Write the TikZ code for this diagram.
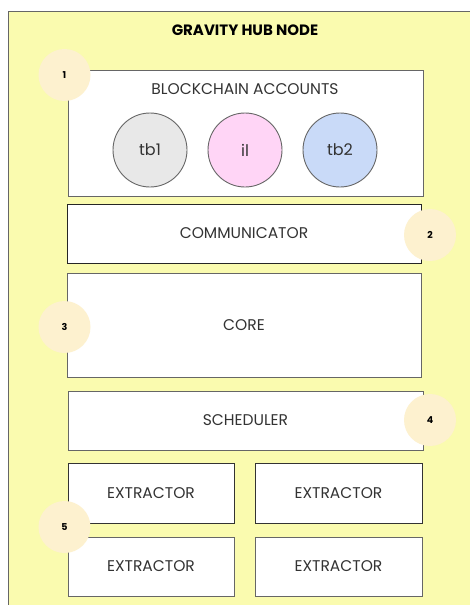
\documentclass[tikz,border=0pt]{standalone}
\usepackage{fontspec}
\setmainfont{Poppins}
\definecolor{bgyellow}{HTML}{FAFBAF}
\definecolor{badgecol}{HTML}{FDF1CF}
\definecolor{edgecol}{HTML}{666666}
\definecolor{txtcol}{HTML}{333333}
\definecolor{c1}{HTML}{E8E8E8}
\definecolor{c2}{HTML}{FFD5F6}
\definecolor{c3}{HTML}{C9DAF8}
\begin{document}
\begin{tikzpicture}[x=1pt,y=-1pt,
  box/.style={draw=edgecol,line width=0.9pt,fill=white,text=txtcol,font=\fontsize{15.5}{17}\selectfont,inner sep=0pt},
  acct/.style={circle,draw=edgecol,line width=0.9pt,minimum size=74pt,inner sep=0pt,text=txtcol,font=\fontsize{16}{18}\selectfont},
  badge/.style={circle,fill=badgecol,minimum size=52pt,inner sep=0pt,font=\bfseries\fontsize{9.5}{11}\selectfont}]
\useasboundingbox (0,0) rectangle (470,605);
\fill[white] (0,0) rectangle (470,605);
\begin{scope}
\clip (0,0) rectangle (470,605);
\draw[fill=bgyellow,draw=edgecol,line width=1pt] (8,11) rectangle (480,620);
\end{scope}
\node[font=\bfseries\fontsize{15}{17}\selectfont] (title) at (245,30) {GRAVITY HUB NODE};
% blockchain accounts
\draw[box] (68,70) rectangle (423,196);
\node[text=txtcol,font=\fontsize{15.5}{17}\selectfont] (bca) at (245,89) {BLOCKCHAIN ACCOUNTS};
\node[acct,fill=c1] (tb1) at (150,150) {tb1};
\node[acct,fill=c2] (il) at (245,150) {il};
\node[acct,fill=c3] (tb2) at (340,150) {tb2};
% communicator
\node[box,draw=black!85,minimum width=354pt,minimum height=59pt] (comm) at (244,233.5) {COMMUNICATOR};
% core
\node[box,minimum width=354pt,minimum height=104pt] (core) at (244,325) {CORE};
% scheduler
\node[box,minimum width=355pt,minimum height=59pt] (sched) at (245.5,420.5) {SCHEDULER};
% extractors
\node[box,draw=black!80,minimum width=166pt,minimum height=60pt] (ex1) at (151,493) {EXTRACTOR};
\node[box,draw=black!80,minimum width=167pt,minimum height=60pt] (ex2) at (338.5,493) {EXTRACTOR};
\node[box,minimum width=166pt,minimum height=59pt] (ex3) at (151,566.5) {EXTRACTOR};
\node[box,minimum width=167pt,minimum height=59pt] (ex4) at (338.5,566.5) {EXTRACTOR};
% badges
\node[badge] (b1) at (64.5,75) {1};
\node[badge] (b2) at (430,235) {2};
\node[badge] (b3) at (64.5,327) {3};
\node[badge] (b4) at (430,420) {4};
\node[badge] (b5) at (64.5,527) {5};
\end{tikzpicture}
\end{document}
